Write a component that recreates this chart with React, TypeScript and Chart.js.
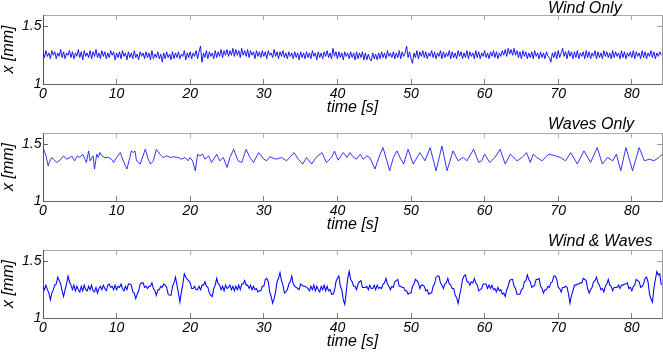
import React, { useEffect, useRef } from "react";
import { Chart, registerables } from "chart.js";

Chart.register(...registerables);

// ---------------- data ----------------
const TIME_STEP = 0.2; // s, sampling interval of the dense records
const xTickValues = [0, 10, 20, 30, 40, 50, 60, 70, 80];
const yTickValues = [1, 1.5];
const xLabel = "time [s]";
const yLabel = "x [mm]";
const panelTitles = ["Wind Only", "Waves Only", "Wind & Waves"];

// Wind only: x [mm], every 0.2 s from 0 to 84 s
const windOnly = [
  1.28,1.23,1.29,1.24,1.27,1.22,1.29,1.25,1.28,1.22,
  1.27,1.24,1.30,1.23,1.28,1.22,1.27,1.25,1.29,1.23,
  1.28,1.22,1.27,1.24,1.30,1.23,1.28,1.21,1.29,1.24,
  1.27,1.23,1.29,1.22,1.28,1.24,1.30,1.23,1.27,1.22,
  1.29,1.24,1.28,1.22,1.27,1.23,1.29,1.25,1.28,1.21,
  1.27,1.23,1.28,1.22,1.29,1.24,1.27,1.21,1.28,1.23,
  1.27,1.22,1.29,1.23,1.26,1.21,1.28,1.24,1.27,1.22,
  1.28,1.23,1.27,1.21,1.29,1.22,1.26,1.23,1.28,1.22,
  1.26,1.19,1.27,1.22,1.28,1.23,1.26,1.21,1.28,1.22,
  1.27,1.23,1.28,1.22,1.26,1.24,1.29,1.21,1.27,1.23,
  1.28,1.22,1.27,1.24,1.29,1.22,1.28,1.33,1.19,1.27,
  1.23,1.29,1.22,1.28,1.24,1.27,1.22,1.29,1.23,1.28,
  1.24,1.30,1.23,1.29,1.25,1.30,1.24,1.29,1.25,1.31,
  1.24,1.30,1.25,1.29,1.23,1.31,1.25,1.29,1.24,1.30,
  1.23,1.29,1.25,1.28,1.22,1.29,1.24,1.28,1.23,1.29,
  1.24,1.28,1.22,1.29,1.25,1.27,1.23,1.30,1.24,1.28,
  1.22,1.28,1.24,1.29,1.23,1.27,1.22,1.28,1.24,1.27,
  1.22,1.28,1.23,1.27,1.21,1.28,1.23,1.27,1.22,1.28,
  1.23,1.27,1.22,1.29,1.24,1.27,1.21,1.28,1.23,1.27,
  1.22,1.28,1.24,1.29,1.23,1.27,1.22,1.31,1.24,1.28,
  1.22,1.28,1.23,1.27,1.21,1.28,1.24,1.27,1.22,1.28,
  1.23,1.27,1.21,1.28,1.22,1.27,1.23,1.28,1.21,1.27,
  1.21,1.26,1.22,1.20,1.27,1.22,1.26,1.21,1.27,1.22,
  1.28,1.23,1.27,1.22,1.29,1.24,1.27,1.23,1.28,1.22,
  1.27,1.23,1.29,1.22,1.28,1.24,1.27,1.33,1.23,1.28,
  1.22,1.18,1.27,1.23,1.29,1.22,1.28,1.24,1.29,1.23,
  1.28,1.22,1.27,1.24,1.29,1.23,1.28,1.22,1.27,1.24,
  1.29,1.22,1.28,1.23,1.27,1.24,1.29,1.22,1.28,1.23,
  1.27,1.22,1.29,1.24,1.28,1.22,1.27,1.23,1.29,1.22,
  1.28,1.24,1.27,1.22,1.29,1.23,1.28,1.22,1.27,1.24,
  1.29,1.23,1.27,1.22,1.28,1.24,1.29,1.23,1.28,1.22,
  1.27,1.24,1.29,1.25,1.30,1.24,1.31,1.26,1.30,1.25,
  1.31,1.25,1.29,1.23,1.28,1.22,1.29,1.24,1.28,1.22,
  1.27,1.23,1.28,1.22,1.29,1.24,1.27,1.22,1.28,1.23,
  1.27,1.22,1.28,1.24,1.23,1.19,1.27,1.23,1.28,1.22,
  1.29,1.23,1.27,1.31,1.24,1.28,1.22,1.29,1.24,1.28,
  1.22,1.28,1.23,1.29,1.22,1.27,1.24,1.28,1.22,1.29,
  1.23,1.28,1.22,1.27,1.24,1.29,1.22,1.28,1.23,1.27,
  1.22,1.29,1.24,1.28,1.23,1.27,1.22,1.29,1.23,1.28,
  1.24,1.27,1.22,1.29,1.23,1.28,1.22,1.27,1.24,1.28,
  1.23,1.29,1.22,1.28,1.24,1.27,1.22,1.29,1.23,1.28,
  1.22,1.27,1.24,1.29,1.23,1.28,1.22,1.27,1.24,1.28,
  1.25,
];

// Waves only: turning points (time [s], x [mm])
const wavesTimes = [
  0,0.4,0.7,0.95,1.2,1.4,1.9,2.3,2.8,3.2,
  3.7,3.9,4.3,4.7,5.0,5.4,5.7,5.9,6.2,6.4,
  6.8,7.0,7.3,7.5,7.75,8.0,8.4,8.9,9.3,9.6,
  10.0,10.5,10.9,11.4,11.8,12.0,12.3,12.5,12.7,13.2,
  13.9,14.3,14.6,15.0,15.4,15.9,16.3,16.8,17.3,17.7,
  18.4,18.8,19.3,19.7,20.0,20.3,20.7,21.0,21.3,21.7,
  22.0,22.5,22.9,23.6,24.0,24.5,25.0,25.4,25.9,26.5,
  27.0,27.6,28.1,28.6,29.3,30.0,30.4,30.8,31.7,32.4,
  33.1,34.1,34.7,35.3,35.8,36.5,37.1,37.9,38.5,39.2,
  39.6,40.1,40.8,41.3,41.7,42.2,42.6,43.1,43.5,44.0,
  44.4,45.1,45.8,46.2,47.1,47.6,48.1,48.5,49.0,49.6,
  50.3,51.2,51.9,52.6,53.4,54.2,54.9,55.7,56.4,57.1,
  57.6,58.5,59.2,59.6,60.0,60.7,61.4,62.1,62.8,63.5,
  64.4,65.1,65.7,66.2,66.6,67.1,67.8,68.7,69.6,70.3,
  71.0,71.7,72.6,73.5,74.4,75.3,76.0,76.7,77.4,77.9,
  78.5,79.2,80.1,81.0,81.7,82.4,83.0,83.7,84.1,
];
const wavesValues = [
  1.47,1.40,1.31,1.355,1.384,1.369,1.34,1.36,1.398,1.369,
  1.384,1.398,1.355,1.398,1.384,1.413,1.369,1.34,1.442,1.355,
  1.398,1.282,1.413,1.384,1.427,1.398,1.384,1.384,1.369,1.34,
  1.384,1.427,1.355,1.282,1.384,1.442,1.427,1.442,1.355,1.326,
  1.456,1.369,1.326,1.355,1.456,1.413,1.384,1.398,1.384,1.39,
  1.384,1.369,1.384,1.355,1.384,1.355,1.267,1.413,1.398,1.413,
  1.369,1.398,1.34,1.413,1.355,1.384,1.296,1.384,1.456,1.355,
  1.34,1.456,1.384,1.34,1.427,1.369,1.355,1.39,1.369,1.384,
  1.355,1.427,1.369,1.326,1.384,1.326,1.384,1.427,1.34,1.384,
  1.44,1.36,1.427,1.384,1.427,1.384,1.369,1.413,1.369,1.398,
  1.384,1.282,1.413,1.471,1.267,1.384,1.442,1.384,1.326,1.456,
  1.326,1.427,1.355,1.471,1.267,1.485,1.267,1.442,1.355,1.384,
  1.355,1.456,1.34,1.355,1.413,1.34,1.384,1.456,1.326,1.413,
  1.355,1.384,1.427,1.34,1.413,1.384,1.355,1.413,1.398,1.384,
  1.355,1.427,1.326,1.442,1.34,1.471,1.326,1.384,1.355,1.413,
  1.267,1.471,1.267,1.471,1.355,1.369,1.355,1.384,1.413,
];

// Wind & waves: x [mm], every 0.2 s from 0 to 84 s
const windWaves = [
  1.28,1.25,1.29,1.25,1.22,1.16,1.22,1.25,1.29,1.30,
  1.36,1.33,1.30,1.24,1.19,1.25,1.30,1.37,1.32,1.29,
  1.25,1.29,1.24,1.28,1.25,1.23,1.28,1.24,1.29,1.25,
  1.24,1.28,1.25,1.29,1.24,1.23,1.27,1.22,1.26,1.28,
  1.25,1.29,1.26,1.24,1.29,1.30,1.27,1.28,1.25,1.29,
  1.25,1.28,1.27,1.30,1.26,1.24,1.28,1.25,1.30,1.30,
  1.29,1.23,1.22,1.17,1.21,1.24,1.30,1.31,1.31,1.27,
  1.28,1.26,1.28,1.28,1.31,1.26,1.24,1.20,1.25,1.25,
  1.28,1.27,1.30,1.29,1.27,1.21,1.20,1.20,1.28,1.31,
  1.36,1.29,1.22,1.14,1.23,1.30,1.39,1.36,1.34,1.33,
  1.31,1.26,1.26,1.28,1.25,1.25,1.28,1.25,1.29,1.29,
  1.32,1.28,1.27,1.22,1.20,1.19,1.26,1.29,1.35,1.30,
  1.29,1.25,1.28,1.24,1.29,1.26,1.27,1.29,1.25,1.28,
  1.24,1.28,1.25,1.29,1.25,1.30,1.30,1.33,1.29,1.29,
  1.26,1.29,1.25,1.28,1.25,1.26,1.23,1.24,1.24,1.28,
  1.28,1.34,1.35,1.32,1.23,1.19,1.13,1.17,1.23,1.32,
  1.35,1.40,1.33,1.29,1.22,1.23,1.25,1.30,1.32,1.37,
  1.30,1.28,1.27,1.26,1.25,1.30,1.29,1.28,1.28,1.27,
  1.26,1.24,1.28,1.25,1.29,1.24,1.28,1.25,1.23,1.28,
  1.25,1.29,1.24,1.28,1.24,1.25,1.21,1.21,1.24,1.32,
  1.35,1.37,1.28,1.25,1.16,1.12,1.23,1.35,1.41,1.34,
  1.32,1.28,1.28,1.25,1.30,1.32,1.33,1.27,1.27,1.27,
  1.28,1.25,1.29,1.26,1.26,1.29,1.25,1.29,1.26,1.27,
  1.26,1.30,1.31,1.35,1.30,1.28,1.25,1.28,1.27,1.32,
  1.33,1.34,1.28,1.28,1.27,1.27,1.24,1.24,1.21,1.22,
  1.22,1.28,1.30,1.34,1.33,1.31,1.26,1.29,1.29,1.28,
  1.24,1.25,1.21,1.22,1.22,1.28,1.30,1.36,1.37,1.37,
  1.31,1.29,1.26,1.30,1.31,1.35,1.30,1.29,1.26,1.26,
  1.20,1.18,1.13,1.20,1.26,1.34,1.37,1.38,1.32,1.32,
  1.29,1.32,1.31,1.35,1.31,1.29,1.24,1.25,1.26,1.30,
  1.30,1.30,1.26,1.29,1.26,1.29,1.25,1.26,1.23,1.27,
  1.24,1.25,1.21,1.22,1.19,1.25,1.28,1.33,1.34,1.34,
  1.28,1.26,1.21,1.21,1.21,1.25,1.26,1.32,1.33,1.38,
  1.34,1.32,1.27,1.28,1.29,1.34,1.34,1.35,1.28,1.26,
  1.22,1.25,1.25,1.28,1.27,1.31,1.32,1.37,1.37,1.34,
  1.27,1.26,1.23,1.27,1.27,1.28,1.27,1.21,1.13,1.20,
  1.24,1.29,1.29,1.30,1.30,1.31,1.31,1.35,1.34,1.33,
  1.26,1.22,1.25,1.27,1.32,1.33,1.36,1.31,1.29,1.25,
  1.26,1.23,1.28,1.30,1.34,1.29,1.28,1.24,1.27,1.27,
  1.27,1.29,1.26,1.29,1.29,1.30,1.30,1.31,1.26,1.27,
  1.24,1.28,1.29,1.34,1.33,1.32,1.27,1.28,1.30,1.35,
  1.36,1.32,1.21,1.17,1.14,1.26,1.34,1.41,1.38,1.39,
  1.29,
];

// ---------------- layout / style ----------------
const FONT = '"Liberation Sans", Arial, Helvetica, sans-serif';
const W = 663;
const PANEL_H = 118;
const EXTRA_TOP = 20; // canvases overlap upward so titles are never clipped
const X_MAX = 84.1;
const TITLE_X = 548;

type PanelSpec = { top: number; padTop: number; padBottom: number; titleY: number; lineWidth: number; color: string };
const PANELS: PanelSpec[] = [
  { top: 0, padTop: 15, padBottom: 1, titleY: 12.5, lineWidth: 0.9, color: "#0000ff" },
  { top: 118, padTop: 15, padBottom: 2, titleY: 10.5, lineWidth: 0.85, color: "#1010ff" },
  { top: 236, padTop: 14, padBottom: 3, titleY: 10, lineWidth: 1.05, color: "#0000ff" },
];

type Pt = { x: number; y: number };

const seriesList: Pt[][] = [
  windOnly.map((v, i) => ({ x: i * TIME_STEP, y: v })),
  wavesTimes.map((t, i) => ({ x: t, y: wavesValues[i] })),
  windWaves.map((v, i) => ({ x: i * TIME_STEP, y: v })),
];

const italic = (size: number) => ({ family: FONT, size, style: "italic" as const });

function Panel({ points, title, spec }: { points: Pt[]; title: string; spec: PanelSpec }) {
  const ref = useRef<HTMLCanvasElement | null>(null);

  useEffect(() => {
    if (!ref.current) return;
    const titlePlugin = {
      id: "panelTitle",
      afterDraw(chart: any) {
        const ctx = chart.ctx;
        ctx.save();
        ctx.font = `italic 16px ${FONT}`;
        ctx.fillStyle = "#000";
        ctx.textAlign = "left";
        ctx.textBaseline = "alphabetic";
        ctx.fillText(title, TITLE_X, spec.titleY + EXTRA_TOP);
        ctx.restore();
      },
    };
    const chart = new Chart(ref.current, {
      type: "line",
      data: {
        datasets: [
          {
            data: points as any,
            borderColor: spec.color,
            borderWidth: spec.lineWidth,
            pointRadius: 0,
            fill: false,
            tension: 0,
            xAxisID: "x",
            yAxisID: "y",
          },
        ],
      },
      options: {
        animation: false,
        responsive: false,
        devicePixelRatio: 1,
        parsing: false as any,
        normalized: true,
        layout: { padding: { top: spec.padTop + EXTRA_TOP, bottom: spec.padBottom, left: 0, right: 1 } },
        plugins: {
          legend: { display: false },
          tooltip: { enabled: false },
          title: { display: false },
        },
        scales: {
          x: {
            type: "linear",
            position: "bottom",
            min: 0,
            max: X_MAX,
            afterBuildTicks: (s: any) => {
              s.ticks = xTickValues.map((v) => ({ value: v }));
            },
            afterFit: (s: any) => {
              s.height = 33;
            },
            ticks: {
              font: italic(14),
              color: "#000",
              padding: 6.6,
              maxRotation: 0,
              autoSkip: false,
              callback: (v: any) => String(v),
            },
            grid: { drawOnChartArea: false, tickLength: -5, color: "#808080" },
            border: { color: "#666" },
            title: {
              display: true,
              text: xLabel,
              font: italic(16),
              color: "#000",
              padding: { top: 0, bottom: 0 },
            },
          },
          xTop: {
            type: "linear",
            position: "top",
            min: 0,
            max: X_MAX,
            afterBuildTicks: (s: any) => {
              s.ticks = xTickValues.map((v) => ({ value: v }));
            },
            afterFit: (s: any) => {
              s.height = 0;
            },
            ticks: { display: false },
            grid: { drawOnChartArea: false, tickLength: -5, color: "#aaa" },
            border: { color: "#aaa" },
          },
          y: {
            type: "linear",
            position: "left",
            min: 1,
            max: 1.6,
            afterBuildTicks: (s: any) => {
              s.ticks = yTickValues.map((v) => ({ value: v }));
            },
            afterFit: (s: any) => {
              s.width = 43;
            },
            ticks: {
              font: italic(14),
              color: "#000",
              padding: 6.5,
              callback: (v: any) => String(v),
            },
            grid: { drawOnChartArea: false, tickLength: -5, color: "#666" },
            border: { color: "#555" },
            title: {
              display: true,
              text: yLabel,
              font: italic(16),
              color: "#000",
              padding: { top: -1, bottom: 0 },
            },
          },
          yRight: {
            type: "linear",
            position: "right",
            min: 1,
            max: 1.6,
            afterBuildTicks: (s: any) => {
              s.ticks = yTickValues.map((v) => ({ value: v }));
            },
            afterFit: (s: any) => {
              s.width = 0;
            },
            ticks: { display: false },
            grid: { drawOnChartArea: false, tickLength: -5, color: "#999" },
            border: { color: "#999" },
          },
        },
      } as any,
      plugins: [titlePlugin],
    });
    return () => chart.destroy();
  }, [points, title, spec]);

  return (
    <canvas
      ref={ref}
      width={W}
      height={PANEL_H + EXTRA_TOP}
      style={{ position: "absolute", left: 0, top: spec.top - EXTRA_TOP, width: W, height: PANEL_H + EXTRA_TOP }}
    />
  );
}

export default function App() {
  return (
    <div style={{ position: "absolute", left: 0, top: 0, width: W, height: 354, background: "#fff", overflow: "hidden" }}>
      {PANELS.map((spec, i) => (
        <Panel key={i} points={seriesList[i]} title={panelTitles[i]} spec={spec} />
      ))}
    </div>
  );
}
